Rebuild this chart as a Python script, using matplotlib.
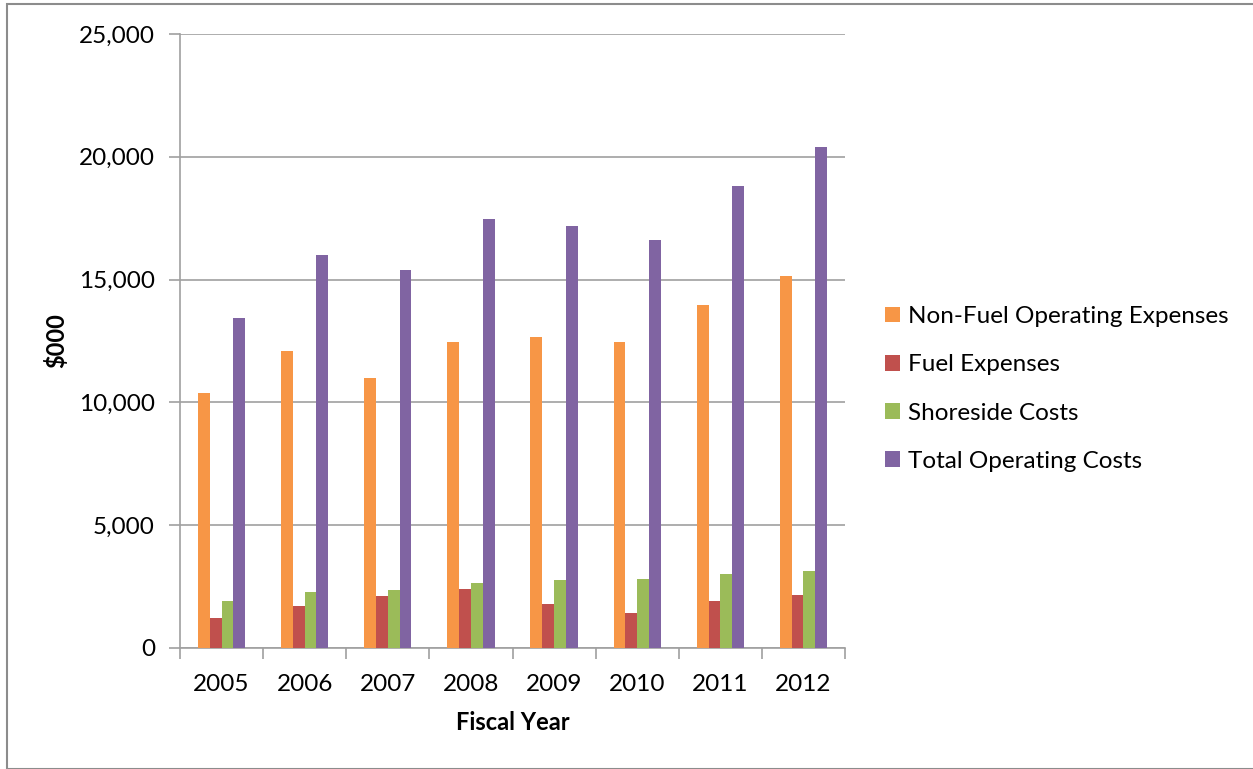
import matplotlib
matplotlib.use('Agg')
import matplotlib.pyplot as plt
import numpy as np
from matplotlib.patches import Rectangle
from matplotlib.ticker import FuncFormatter

plt.rcParams['font.family'] = ['Lato', 'DejaVu Sans']

years = ['2005', '2006', '2007', '2008', '2009', '2010', '2011', '2012']
non_fuel = [10370, 12100, 10980, 12470, 12650, 12460, 13970, 15150]
fuel = [1210, 1710, 2110, 2390, 1790, 1410, 1920, 2160]
shoreside = [1900, 2260, 2370, 2650, 2760, 2800, 3000, 3150]
total = [13420, 16020, 15410, 17470, 17170, 16620, 18820, 20410]

series = [
    ('Non-Fuel Operating Expenses', non_fuel, '#F79646'),
    ('Fuel Expenses', fuel, '#C0504D'),
    ('Shoreside Costs', shoreside, '#9BBB59'),
    ('Total Operating Costs', total, '#8064A2'),
]

fig = plt.figure(figsize=(12.53, 7.69), dpi=100)
W, H = 1253, 769
ax = fig.add_axes([180 / W, 1 - 648 / H, (845 - 180) / W, (648 - 34) / H])

x = np.arange(len(years))
bw = 0.142
for i, (name, vals, col) in enumerate(series):
    ax.bar(x + (i - 1.5) * bw, vals, bw, color=col, label=name, zorder=3)

ax.set_xlim(-0.5, len(years) - 0.5)
ax.set_ylim(0, 25000)
ax.set_yticks(range(0, 25001, 5000))
ax.yaxis.set_major_formatter(FuncFormatter(lambda v, p: f'{int(v):,}'))
ax.set_xticks(x)
ax.set_xticklabels(years)
ax.set_xticks(np.arange(-0.5, len(years)), minor=True)
ax.tick_params(axis='x', which='major', length=0, labelsize=17.5, pad=19)
ax.tick_params(axis='x', which='minor', length=8, color='#A0A0A0', width=1.2)
ax.tick_params(axis='y', length=8, color='#A0A0A0', width=1.2, labelsize=17.5, pad=10)

ax.grid(axis='y', color='#A0A0A0', linewidth=1.2, zorder=0)
for s in ['top', 'right']:
    ax.spines[s].set_visible(False)
for s in ['left', 'bottom']:
    ax.spines[s].set_color('#A0A0A0')
    ax.spines[s].set_linewidth(1.2)

ax.set_xlabel('Fiscal Year', fontsize=17, fontweight='bold')
ax.set_ylabel('$000', fontsize=17, fontweight='bold')
ax.xaxis.set_label_coords(0.5, (648 - 711) / 614)
ax.yaxis.set_label_coords((68 - 180) / 665, 0.5)

ax.legend(loc='center left', bbox_to_anchor=(1.0425, 0.422), frameon=False,
          fontsize=17.5, handlelength=0.62, handleheight=0.62, handletextpad=0.3,
          labelspacing=1.12, borderpad=0)

fig.patches.append(Rectangle((7 / W, 0), 1.0, 1 - 4 / H, transform=fig.transFigure,
                             fill=False, edgecolor='#8C8C8C', linewidth=1.5))

fig.savefig('out.png', dpi=100)
